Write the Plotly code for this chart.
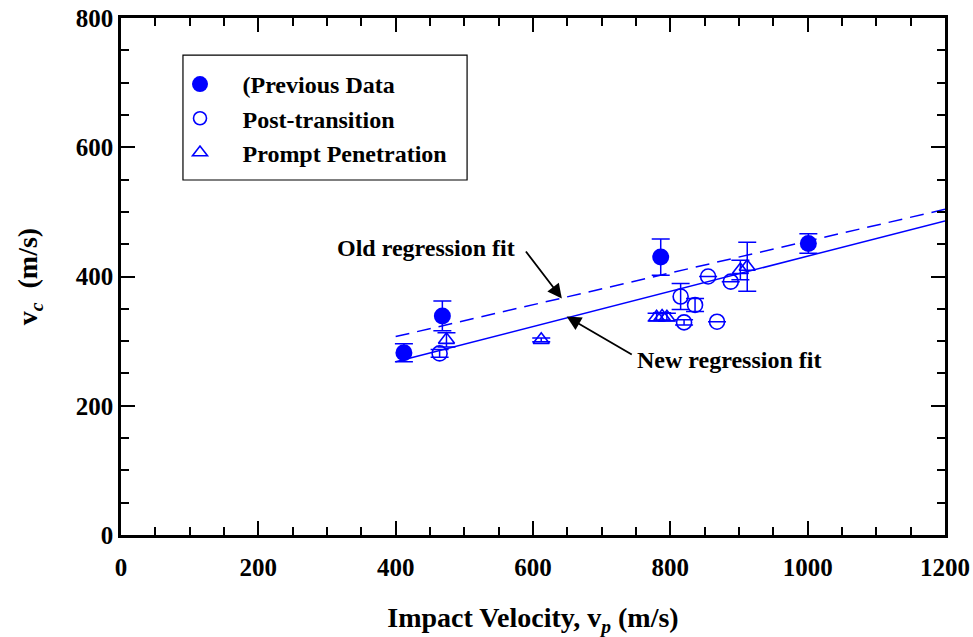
import plotly.graph_objects as go

# ---- data ----
prev_x = [412, 468, 786, 1001]
prev_y = [282, 339, 430, 451]
prev_err = [14, 23, 28, 15]

post_x = [464, 815, 836, 820, 868, 855, 888]
post_y = [281, 369, 356, 329, 330, 400, 392]
post_err = [6, 20, 10, 4, None, None, None]

prompt_x = [474, 612, 780, 788, 795, 902, 912]
prompt_y = [302, 302, 337, 338, 337, 410, 415]
prompt_err = [11, 3, 6, 6, 6, 15, 38]

new_fit_x = [400, 1200]
new_fit_y = [268, 486]
old_fit_x = [400, 1200]
old_fit_y = [307, 504]

x_ticks = [0, 200, 400, 600, 800, 1000, 1200]
y_ticks = [0, 200, 400, 600, 800]

BLUE = "#0000FF"
FONT = "Liberation Serif"

fig = go.Figure()

fig.add_trace(go.Scatter(x=old_fit_x, y=old_fit_y, mode="lines",
                         line=dict(color=BLUE, width=1.5, dash="14px,8px"),
                         showlegend=False, hoverinfo="skip"))
fig.add_trace(go.Scatter(x=new_fit_x, y=new_fit_y, mode="lines",
                         line=dict(color=BLUE, width=1.5),
                         showlegend=False, hoverinfo="skip"))

err_style = dict(type="data", color=BLUE, thickness=1.5, width=9, visible=True)

fig.add_trace(go.Scatter(x=prev_x, y=prev_y, mode="markers", name="(Previous Data",
                         marker=dict(symbol="circle", size=17, color=BLUE),
                         error_y=dict(array=prev_err, **err_style), showlegend=False))
fig.add_trace(go.Scatter(x=post_x, y=post_y, mode="markers", name="Post-transition",
                         marker=dict(symbol="circle-open", size=15, color=BLUE,
                                     line=dict(width=1.6, color=BLUE)),
                         error_y=dict(array=post_err, **err_style), showlegend=False))
fig.add_trace(go.Scatter(x=prompt_x, y=prompt_y, mode="markers", name="Prompt Penetration",
                         marker=dict(symbol="triangle-up-open", size=14, color=BLUE,
                                     line=dict(width=1.6, color=BLUE)),
                         error_y=dict(array=prompt_err, **err_style), showlegend=False))

# legend entries
fig.add_trace(go.Scatter(x=[None], y=[None], mode="markers", name="(Previous Data",
                         marker=dict(symbol="circle", size=16, color=BLUE), legendgroup="a"))
fig.add_trace(go.Scatter(x=[None], y=[None], mode="markers", name="Post-transition",
                         marker=dict(symbol="circle-open", size=13, color=BLUE,
                                     line=dict(width=1.6, color=BLUE)), legendgroup="b"))
fig.add_trace(go.Scatter(x=[None], y=[None], mode="markers", name="Prompt Penetration",
                         marker=dict(symbol="triangle-up-open", size=13, color=BLUE,
                                     line=dict(width=1.6, color=BLUE)), legendgroup="c"))

# annotations
txt_font = dict(family=FONT, size=24, color="black", weight="bold")
fig.add_annotation(x=444, y=444, xref="x", yref="y", text="Old regression fit",
                   showarrow=False, font=txt_font)
fig.add_annotation(x=885, y=271, xref="x", yref="y", text="New regression fit",
                   showarrow=False, font=txt_font)
fig.add_annotation(x=642, y=366, ax=588, ay=441, xref="x", yref="y", axref="x", ayref="y",
                   text="", showarrow=True, arrowhead=2, arrowsize=1.6, arrowwidth=1.8,
                   arrowcolor="black")
fig.add_annotation(x=649, y=338, ax=746, ay=278, xref="x", yref="y", axref="x", ayref="y",
                   text="", showarrow=True, arrowhead=2, arrowsize=1.6, arrowwidth=1.8,
                   arrowcolor="black")

# legend box
fig.add_shape(type="rect", xref="paper", yref="paper", x0=0.0752, x1=0.42, y0=0.6867, y1=0.928,
              line=dict(color="black", width=1.2), fillcolor="white", layer="below")

tick_font = dict(family=FONT, size=25, color="black", weight="bold")
axis_common = dict(showline=True, linecolor="black", linewidth=2.5, mirror="ticks",
                   ticks="inside", ticklen=14, tickwidth=2, tickcolor="black",
                   showgrid=False, zeroline=False, tickfont=tick_font, automargin=False,
                   minor=dict(ticks="inside", ticklen=8, tickwidth=1.5, tickcolor="black",
                              showgrid=False, dtick=50))

fig.update_xaxes(range=[0, 1200], tickvals=x_ticks, **axis_common, ticklabelstandoff=8,
                 title=dict(text="Impact Velocity, v<sub><i>p</i></sub> (m/s)",
                            font=dict(family=FONT, size=28, color="black", weight="bold"),
                            standoff=30))
fig.update_yaxes(range=[0, 800], tickvals=y_ticks, **axis_common,
                 title=dict(text="v<sub><i>c</i></sub>  (m/s)",
                            font=dict(family=FONT, size=28, color="black", weight="bold"),
                            standoff=30))

fig.update_layout(
    width=973, height=637,
    margin=dict(l=121, r=28, t=18, b=102),
    plot_bgcolor="white", paper_bgcolor="white",
    font=dict(family=FONT, color="black"),
    showlegend=True,
    legend=dict(x=0.0443, y=0.915, xanchor="left", yanchor="top",
                bgcolor="rgba(0,0,0,0)", borderwidth=0,
                font=dict(family=FONT, size=24, color="black", weight="bold"),
                tracegroupgap=0, itemwidth=75),
)

fig.write_html("out.html")
